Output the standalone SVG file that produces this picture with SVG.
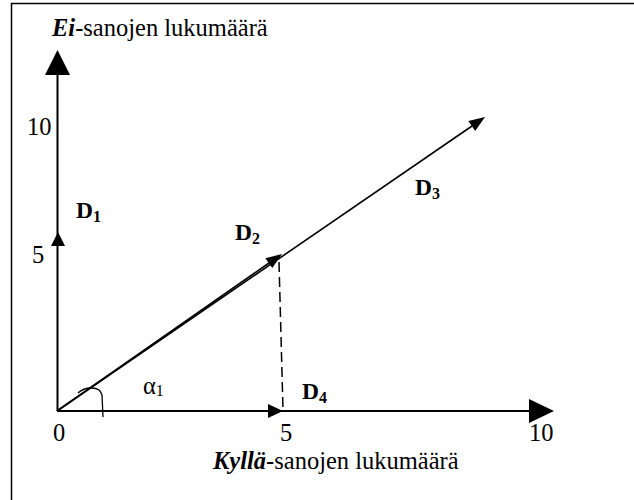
<svg xmlns="http://www.w3.org/2000/svg" width="634" height="500" viewBox="0 0 634 500">
<style>
text{font-family:"Liberation Serif","Times New Roman",serif;font-size:24.5px;fill:#000}
.b{font-weight:bold;font-size:23.5px}
.bi{font-weight:bold;font-style:italic}
.sub{font-size:16px}
.ln{stroke:#000;fill:none;stroke-linecap:butt}
.ah{fill:#000;stroke:none}
</style>
<rect width="634" height="500" fill="#fff"/>
<path id="frame" d="M11.5,500 V3.5 H634" stroke="#000" stroke-width="1.5" fill="none"/>
<g id="y-axis">
<line class="ln" x1="57.5" y1="411" x2="57.5" y2="74" stroke-width="2"/>
<polygon class="ah" points="57.5,50 45,75 70,75"/>
<polygon class="ah" points="58,232 51,246 65,246"/>
</g>
<g id="x-axis">
<line class="ln" x1="57" y1="411" x2="530" y2="411" stroke-width="2"/>
<polygon class="ah" points="554,411 529,399 529,423"/>
<polygon class="ah" points="283,411 268,404 268,418"/>
</g>
<g id="connectors">
<line id="D3-vector" class="ln" x1="57" y1="411" x2="472" y2="126" stroke-width="1.6"/>
<polygon class="ah" points="485,117 475.2,131 468.4,121.1"/>
<line id="D2-vector" class="ln" x1="57" y1="411" x2="269" y2="263" stroke-width="1.6"/>
<polygon class="ah" points="282,254 272.3,268.1 265.4,258.2"/>
<line id="projection" class="ln" x1="279" y1="262" x2="283" y2="410" stroke-width="1.5" stroke-dasharray="10,5"/>
<path id="angle-arc" class="ln" d="M78,393 C84,387 100,385 102,395 L103,417" stroke-width="1.3"/>
</g>
<g id="labels">
<text x="52" y="36"><tspan class="bi">Ei</tspan>-sanojen lukumäärä</text>
<text x="27" y="135">10</text>
<text x="32" y="263">5</text>
<text class="b" x="76" y="218">D<tspan class="sub" dy="4">1</tspan></text>
<text class="b" x="235" y="240">D<tspan class="sub" dy="4">2</tspan></text>
<text class="b" x="415" y="195">D<tspan class="sub" dy="4">3</tspan></text>
<text class="b" x="302" y="399">D<tspan class="sub" dy="4">4</tspan></text>
<text x="143" y="394">α<tspan class="sub" dy="2">1</tspan></text>
<text x="53" y="441">0</text>
<text x="280" y="441">5</text>
<text x="529" y="441">10</text>
<text x="213" y="469"><tspan class="bi">Kyllä</tspan>-sanojen lukumäärä</text>
</g>
</svg>
